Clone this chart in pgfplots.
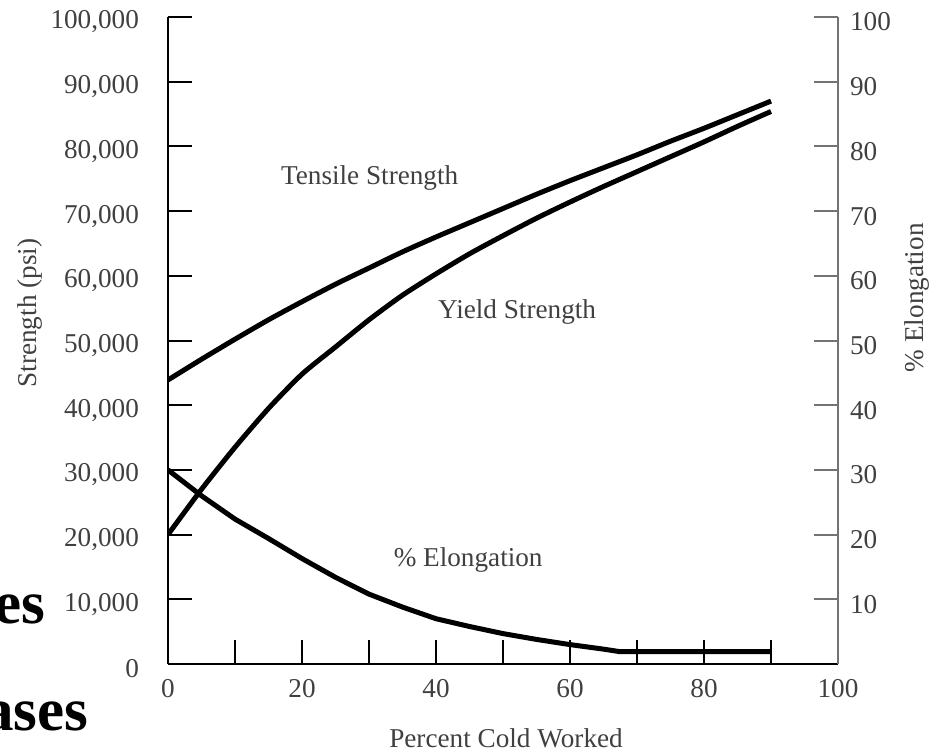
\documentclass[border=0pt]{standalone}
\usepackage{fontspec}
\setmainfont{Liberation Serif}
\usepackage{pgfplots}
\pgfplotsset{compat=1.18}

\definecolor{txt}{gray}{0.25}
\definecolor{raxis}{gray}{0.45}

\begin{document}
\begin{tikzpicture}
% page = the reference frame (axis corner at the origin)
\path[use as bounding box] (-84pt,-43.5pt) rectangle (383.5pt,332pt);
\pgfplotsset{
  every axis/.append style={
    scale only axis, width=335pt, height=323.5pt,
    xmin=0, xmax=100,
    tick align=inside, major tick length=12pt, minor tick length=12pt,
    font=\fontsize{13.6}{16}\selectfont,
    every tick label/.append style={text=txt},
    scaled ticks=false,
  },
}
\begin{axis}[
  ymin=0, ymax=100000,
  axis x line*=bottom, axis y line*=left,
  axis line style={-, line width=1pt, black},
  tick style={line width=1pt, black},
  xtick={0,20,...,100}, minor xtick={10,30,...,90},
  xticklabels={0,20,40,60,80,100},
  ytick={0,10000,...,100000},
  yticklabels={0,{10,000},{20,000},{30,000},{40,000},{50,000},{60,000},{70,000},{80,000},{90,000},{100,000}},
  yticklabel style={xshift=-11pt, yshift=-2.5pt},
  xticklabel style={yshift=-4pt},
  xlabel={Percent Cold Worked},
  ylabel={Strength (psi)},
  every axis x label/.style={at={(axis description cs:0.5045,-0.1144)}, anchor=center, text=txt},
  every axis y label/.style={at={(axis description cs:-0.206,0.5425)}, rotate=90, anchor=center, text=txt},
]
% tensile strength
\addplot[black, line width=2.5pt, line join=round, smooth, tension=0.4] coordinates {
  (0,43900) (5,47100) (10,50200) (15,53200) (20,56000) (25,58700) (30,61200)
  (35,63700) (40,66000) (45,68200) (50,70400) (55,72600) (60,74700) (65,76700)
  (70,78700) (75,80800) (80,82800) (85,84900) (90,87000)};
% yield strength
\addplot[black, line width=2.5pt, line join=round, smooth, tension=0.4] coordinates {
  (0,20000) (5,27000) (10,33500) (15,39500) (20,44800) (25,49000) (30,53200)
  (35,57000) (40,60300) (45,63400) (50,66200) (55,68900) (60,71400) (65,73800)
  (70,76100) (75,78400) (80,80700) (85,83100) (90,85400)};
\node[text=txt] at (axis cs:30.1,75100) {Tensile Strength};
\node[text=txt] at (axis cs:52.1,54400) {Yield Strength};
\node[text=txt] at (axis cs:44.8,16100) {\% Elongation};
\end{axis}
\begin{axis}[
  ymin=0, ymax=100,
  axis x line=none, axis y line*=right,
  axis line style={-, line width=1pt, raxis},
  tick style={line width=1pt, raxis},
  ytick={10,20,...,100},
  yticklabels={10,20,30,40,50,60,70,80,90,100},
  yticklabel style={xshift=2.5pt, yshift=-2.5pt},
  ylabel={\% Elongation},
  every axis y label/.style={at={(axis description cs:1.118,0.566)}, rotate=90, anchor=center, text=txt},
]
% elongation
\addplot[black, line width=2.5pt, line join=round] coordinates {
  (0,30) (5,26) (10,22.4) (15,19.4) (20,16.3) (25,13.4) (30,10.8) (35,8.8)
  (40,7.0) (45,5.8) (50,4.7) (55,3.8) (60,3.0) (65,2.3) (67.5,1.9) (90,1.9)};
\end{axis}
\node[anchor=base west, inner sep=0, font=\fontsize{30.5}{34}\selectfont\bfseries] at (-87pt,20.5pt) {es};
\node[anchor=base west, inner sep=0, font=\fontsize{30.5}{34}\selectfont\bfseries] at (-92.5pt,-33pt) {ases};
\end{tikzpicture}
\end{document}
